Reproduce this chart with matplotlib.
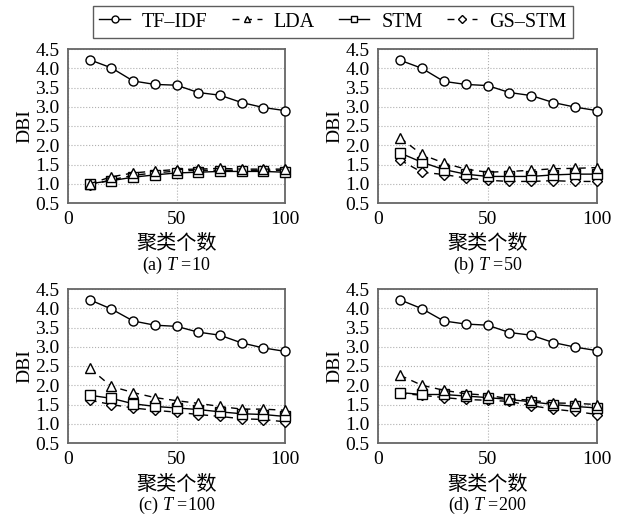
import matplotlib
matplotlib.use("Agg")
import matplotlib.pyplot as plt
from matplotlib.lines import Line2D

plt.rcParams['font.family'] = ['Liberation Serif', 'Noto Sans CJK SC', 'DejaVu Sans']
plt.rcParams['mathtext.fontset'] = 'custom'
plt.rcParams['mathtext.it'] = 'Liberation Serif:italic'
plt.rcParams['mathtext.rm'] = 'Liberation Serif'

x = [10, 20, 30, 40, 50, 60, 70, 80, 90, 100]
series_names = ['TF\u2013IDF', 'LDA', 'STM', 'GS\u2013STM']
captions = ['(a) $T$ =10', '(b) $T$ =50', '(c) $T$ =100', '(d) $T$ =200']

tfidf_a = [4.22, 4.01, 3.67, 3.58, 3.56, 3.37, 3.30, 3.11, 2.98, 2.90]
lda_a = [1.00, 1.18, 1.28, 1.33, 1.37, 1.38, 1.40, 1.38, 1.38, 1.38]
stm_a = [1.00, 1.08, 1.17, 1.23, 1.28, 1.30, 1.32, 1.32, 1.32, 1.30]
gs_a = [0.97, 1.10, 1.22, 1.28, 1.33, 1.35, 1.35, 1.35, 1.35, 1.35]

tfidf_b = [4.21, 4.00, 3.66, 3.58, 3.55, 3.37, 3.29, 3.11, 2.99, 2.90]
lda_b = [2.20, 1.76, 1.54, 1.38, 1.30, 1.32, 1.35, 1.39, 1.40, 1.42]
stm_b = [1.80, 1.56, 1.37, 1.25, 1.19, 1.19, 1.19, 1.23, 1.25, 1.25]
gs_b = [1.62, 1.30, 1.24, 1.15, 1.09, 1.06, 1.06, 1.08, 1.06, 1.06]

tfidf_c = [4.22, 3.98, 3.67, 3.56, 3.53, 3.38, 3.30, 3.10, 2.97, 2.88]
lda_c = [2.44, 1.97, 1.81, 1.68, 1.60, 1.53, 1.45, 1.38, 1.38, 1.35]
stm_c = [1.74, 1.66, 1.52, 1.45, 1.41, 1.37, 1.31, 1.26, 1.24, 1.19]
gs_c = [1.61, 1.50, 1.41, 1.35, 1.30, 1.24, 1.19, 1.13, 1.11, 1.05]

tfidf_d = [4.22, 3.99, 3.67, 3.59, 3.56, 3.37, 3.30, 3.11, 2.99, 2.90]
lda_d = [2.26, 2.00, 1.87, 1.78, 1.74, 1.65, 1.61, 1.54, 1.53, 1.50]
stm_d = [1.81, 1.76, 1.76, 1.72, 1.68, 1.63, 1.57, 1.50, 1.45, 1.41]
gs_d = [1.79, 1.74, 1.68, 1.63, 1.61, 1.58, 1.47, 1.38, 1.32, 1.24]

panels = [
    (tfidf_a, lda_a, stm_a, gs_a),
    (tfidf_b, lda_b, stm_b, gs_b),
    (tfidf_c, lda_c, stm_c, gs_c),
    (tfidf_d, lda_d, stm_d, gs_d),
]

yticks = [0.5, 1.0, 1.5, 2.0, 2.5, 3.0, 3.5, 4.0, 4.5]
xticks = [0, 50, 100]

styles = [
    dict(marker='o', linestyle='-'),
    dict(marker='^', linestyle=(0, (5, 4))),
    dict(marker='s', linestyle='-'),
    dict(marker='D', linestyle=(0, (5, 4)), markersize=5),
]

W, H = 620, 515
fig = plt.figure(figsize=(6.2, 5.15), dpi=100)
# pixel boxes: left, top, right, bottom
boxes = [
    (68, 49, 285, 203),
    (378, 49, 597, 203),
    (68, 289, 285, 443),
    (378, 289, 597, 443),
]

fs = 14
for i, (bx, data) in enumerate(zip(boxes, panels)):
    l, t, r, b = bx
    ax = fig.add_axes([l / W, 1 - b / H, (r - l) / W, (b - t) / H])
    for j, (vals, st) in enumerate(zip(data, styles)):
        kw = dict(color='black', linewidth=1.0, markersize=6.5, markerfacecolor='white',
                  markeredgecolor='black', markeredgewidth=1.0)
        kw.update(st)
        ax.plot(x, vals, label=series_names[j], zorder=3 + (3 - j), clip_on=False, **kw)
    ax.set_xlim(0, 100)
    ax.set_ylim(0.5, 4.5)
    ax.set_xticks(xticks)
    ax.set_yticks(yticks)
    ax.set_yticklabels([f"{v:.1f}" for v in yticks])
    ax.tick_params(axis='both', length=0, labelsize=fs)
    ax.tick_params(axis='y', pad=6)
    ax.tick_params(axis='x', pad=6)
    ax.grid(True, linestyle=':', color='#b0b0b0', linewidth=0.8)
    for s in ax.spines.values():
        s.set_color('#666666')
        s.set_linewidth(1.3)
    cy = 1 - (t + b) / 2 / H
    fig.text((l - 43) / W, cy, 'DBI', rotation=90, ha='center', va='center', fontsize=fs)
    cx = (l + r) / 2 / W
    fig.text(cx, 1 - (b + 41) / H, '聚类个数', ha='center', va='center', fontsize=fs + 0.5,
             family=['Noto Sans CJK SC'])
    fig.text(cx, 1 - (b + 62) / H, captions[i], ha='center', va='center', fontsize=fs - 1)

handles = []
for j, st in enumerate(styles):
    kw = dict(color='black', linewidth=1.0, markersize=5, markerfacecolor='white',
              markeredgecolor='black', markeredgewidth=1.0)
    kw.update(st)
    if j == 3:
        kw['markersize'] = 4
    if j == 1:
        kw['markersize'] = 4.5
    handles.append(Line2D([0], [0], **kw))
leg = fig.legend(handles, series_names, loc='center', bbox_to_anchor=(333 / W, 1 - 22 / H),
                 ncol=4, frameon=True, fancybox=False, fontsize=fs + 0.5,
                 handlelength=1.5, columnspacing=1.2, handletextpad=0.6,
                 borderpad=0.3, borderaxespad=0)
leg.get_frame().set_edgecolor('#333333')
leg.get_frame().set_linewidth(1.0)

fig.savefig('out.png', dpi=100)
